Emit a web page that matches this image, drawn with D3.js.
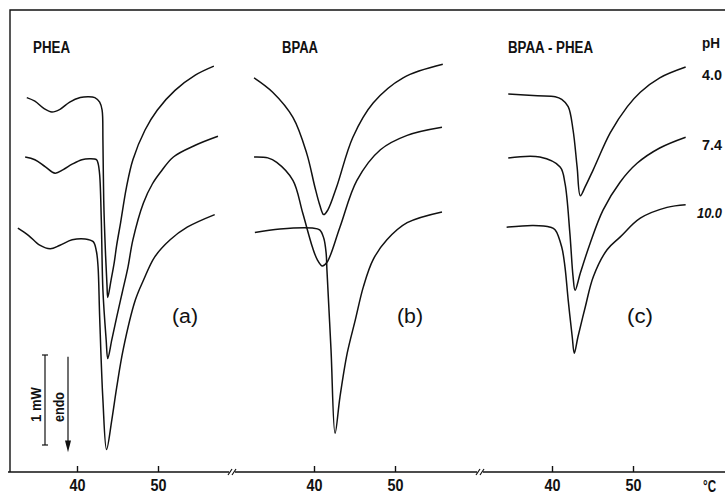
<!DOCTYPE html>
<html>
<head>
<meta charset="utf-8">
<script src="https://cdn.jsdelivr.net/npm/d3@7"></script>
<style>
body { margin: 0; background: #fff; }
svg text { font-family: "Liberation Sans", Arial, sans-serif; font-weight: bold; fill: #111; }
</style>
</head>
<body>
<svg width="725" height="495"></svg>
<script>
// temperatures (degC) and heat flow (mW, above the base line)
var titles = ["PHEA", "BPAA", "BPAA - PHEA"];
var panelTags = ["(a)", "(b)", "(c)"];
var phLabels = ["4.0", "7.4", "10.0"];
var tickValues = [40, 50];

var pheaPH4 = [[33.8,4.16],[34.8,4.12],[35.9,4.04],[36.9,4.00],[37.9,4.03],[39.1,4.11],[40.4,4.16],[41.4,4.17],[42.2,4.16],[42.8,4.11],[43.1,4.02],[43.2,3.69],[43.3,3.02],[43.5,2.47],[43.7,2.08],[43.8,1.94],[44.2,2.13],[44.6,2.33],[44.9,2.52],[45.4,2.78],[46.1,3.16],[46.9,3.47],[48.4,3.80],[49.9,4.02],[52.1,4.24],[54.6,4.41],[56.9,4.51]];
var pheaPH7 = [[33.6,3.50],[34.8,3.47],[36.1,3.39],[37.3,3.32],[38.3,3.36],[39.4,3.42],[40.6,3.47],[41.6,3.48],[42.4,3.47],[42.6,3.43],[42.8,3.30],[43.0,2.80],[43.2,2.02],[43.6,1.47],[43.8,1.26],[44.3,1.47],[44.9,1.72],[45.6,2.00],[46.3,2.28],[46.9,2.58],[48.2,2.99],[49.3,3.20],[50.3,3.33],[51.9,3.50],[54.6,3.63],[57.4,3.73]];
var pheaPH10 = [[32.7,2.71],[34.0,2.63],[35.4,2.52],[36.7,2.48],[37.9,2.52],[39.4,2.58],[41.0,2.59],[42.0,2.56],[42.4,2.45],[42.6,2.28],[42.8,1.72],[43.2,0.80],[43.65,0.25],[44.3,0.58],[44.9,0.94],[45.7,1.36],[47.2,1.91],[48.2,2.13],[49.6,2.39],[51.5,2.58],[53.6,2.72],[57.0,2.86]];

var bpaaPH4 = [[32.6,4.38],[34.9,4.22],[37.4,3.94],[39.1,3.54],[40.1,3.17],[40.7,2.97],[41.2,2.86],[41.7,2.91],[42.8,3.17],[44.8,3.72],[47.3,4.10],[51.0,4.38],[55.9,4.53]];
var bpaaPH7 = [[32.6,3.50],[34.3,3.49],[35.4,3.44],[37.4,3.24],[38.6,2.88],[39.8,2.50],[40.4,2.36],[41.0,2.29],[41.6,2.33],[43.2,2.72],[45.3,3.24],[48.2,3.58],[51.5,3.74],[55.8,3.83]];
var bpaaPH10 = [[32.7,2.66],[35.8,2.70],[39.8,2.71],[40.7,2.69],[41.2,2.60],[41.5,2.43],[41.6,2.24],[42.1,1.36],[42.6,0.43],[43.2,0.83],[44.1,1.32],[45.1,1.69],[46.1,2.06],[47.3,2.36],[49.0,2.58],[51.5,2.77],[55.8,2.89]];

var mixPH4 = [[34.6,4.20],[38.2,4.18],[40.4,4.17],[41.2,4.14],[42.0,4.06],[42.6,3.80],[43.1,3.39],[43.5,3.07],[44.1,3.17],[45.1,3.36],[47.2,3.77],[49.3,4.06],[50.9,4.22],[53.3,4.38],[56.5,4.50]];
var mixPH7 = [[34.6,3.49],[38.5,3.50],[41.0,3.39],[41.6,3.21],[42.2,2.66],[42.6,2.17],[42.85,2.02],[43.5,2.21],[44.7,2.54],[46.3,2.91],[48.4,3.22],[50.5,3.43],[53.3,3.60],[56.5,3.72]];
var mixPH10 = [[34.4,2.72],[37.7,2.74],[39.8,2.72],[40.4,2.69],[41.2,2.50],[41.6,2.28],[42.0,1.91],[42.5,1.50],[42.75,1.32],[43.2,1.50],[44.1,1.83],[45.1,2.17],[46.8,2.47],[48.4,2.61],[50.9,2.82],[54.2,2.94],[56.5,2.97]];

var curves = [
  [pheaPH4, pheaPH7, pheaPH10],
  [bpaaPH4, bpaaPH7, bpaaPH10],
  [mixPH4, mixPH7, mixPH10]
];

var svg = d3.select("svg");
var baseY = 472;

// one x scale per panel, 10 degC = 81 px
var x40 = [77, 314, 552];
var xs = x40.map(function(p) {
  return d3.scaleLinear().domain([40, 50]).range([p, p + 81]);
});
var y = d3.scaleLinear().domain([0, 5]).range([baseY, baseY - 450]);

// narrow tall lettering like the original
function label(sel, size, len) {
  return sel.style("font-size", size + "px")
    .attr("textLength", len)
    .attr("lengthAdjust", "spacingAndGlyphs");
}

// frame
svg.append("path")
  .attr("d", "M10,472 L10,10 L725,10")
  .attr("fill", "none")
  .attr("stroke", "#111")
  .attr("stroke-width", 1.4);

svg.append("line")
  .attr("x1", 8).attr("x2", 725)
  .attr("y1", baseY).attr("y2", baseY)
  .attr("stroke", "#111")
  .attr("stroke-width", 1.4);

// axis breaks
[232, 480].forEach(function(bx) {
  svg.append("rect")
    .attr("x", bx - 3).attr("y", baseY - 3)
    .attr("width", 6).attr("height", 6)
    .attr("fill", "#fff");
  [-2, 2].forEach(function(o) {
    svg.append("line")
      .attr("x1", bx + o - 2).attr("y1", baseY + 3)
      .attr("x2", bx + o + 2).attr("y2", baseY - 3)
      .attr("stroke", "#111")
      .attr("stroke-width", 1.2);
  });
});

// ticks
xs.forEach(function(x) {
  var ax = svg.append("g")
    .attr("transform", "translate(0," + baseY + ")")
    .call(d3.axisBottom(x).tickValues(tickValues).tickSizeInner(-6).tickSizeOuter(0).tickPadding(7));
  ax.select(".domain").remove();
  ax.selectAll("line").attr("stroke", "#111").attr("stroke-width", 1.4);
  ax.attr("font-family", null).attr("font-size", null);
  label(ax.selectAll("text"), 17, 16);
});

label(svg.append("text")
  .attr("x", 703).attr("y", 492), 17, 13)
  .text("°C");

// curves
var line = d3.line().curve(d3.curveCatmullRom.alpha(0.5));
curves.forEach(function(set, i) {
  var x = xs[i];
  svg.append("g")
    .selectAll("path")
    .data(set)
    .enter().append("path")
    .attr("d", function(d) { return line(d.map(function(p) { return [x(p[0]), y(p[1])]; })); })
    .attr("fill", "none")
    .attr("stroke", "#111")
    .attr("stroke-width", 1.5)
    .attr("stroke-linejoin", "round");
});

// panel titles and tags
var titleX = [33, 282, 508];
var titleW = [37, 36, 85];
var tagX = [172, 397, 627];
titles.forEach(function(t, i) {
  label(svg.append("text")
    .attr("x", titleX[i]).attr("y", 53), 16, titleW[i])
    .text(t);
  label(svg.append("text")
    .attr("x", tagX[i]).attr("y", 323), 20, 26)
    .style("font-weight", "normal")
    .text(panelTags[i]);
});

// pH labels at curve ends of panel c
label(svg.append("text")
  .attr("x", 702).attr("y", 48), 14, 18)
  .text("pH");
var phW = [20, 20, 25];
phLabels.forEach(function(t, i) {
  var last = curves[2][i][curves[2][i].length - 1];
  label(svg.append("text")
    .attr("x", 722 - phW[i]).attr("y", y(last[1]) + 13), 15, phW[i])
    .style("font-style", i == 2 ? "italic" : "normal")
    .text(t);
});

// 1 mW scale bar and endo arrow
var barX = 45;
svg.append("line")
  .attr("x1", barX).attr("x2", barX)
  .attr("y1", y(1.3)).attr("y2", y(0.3))
  .attr("stroke", "#111").attr("stroke-width", 1.2);
[1.3, 0.3].forEach(function(v) {
  svg.append("line")
    .attr("x1", barX - 3).attr("x2", barX + 3)
    .attr("y1", y(v)).attr("y2", y(v))
    .attr("stroke", "#111").attr("stroke-width", 1.2);
});
label(svg.append("text")
  .attr("transform", "translate(41,422) rotate(-90)"), 15, 35)
  .text("1 mW");
label(svg.append("text")
  .attr("transform", "translate(64,422) rotate(-90)"), 15, 30)
  .text("endo");
svg.append("line")
  .attr("x1", 68).attr("x2", 68)
  .attr("y1", y(1.28)).attr("y2", y(0.3))
  .attr("stroke", "#111").attr("stroke-width", 1.2);
svg.append("path")
  .attr("d", "M65," + y(0.35) + " L68," + y(0.22) + " L71," + y(0.35) + " Z")
  .attr("fill", "#111");
</script>
</body>
</html>
